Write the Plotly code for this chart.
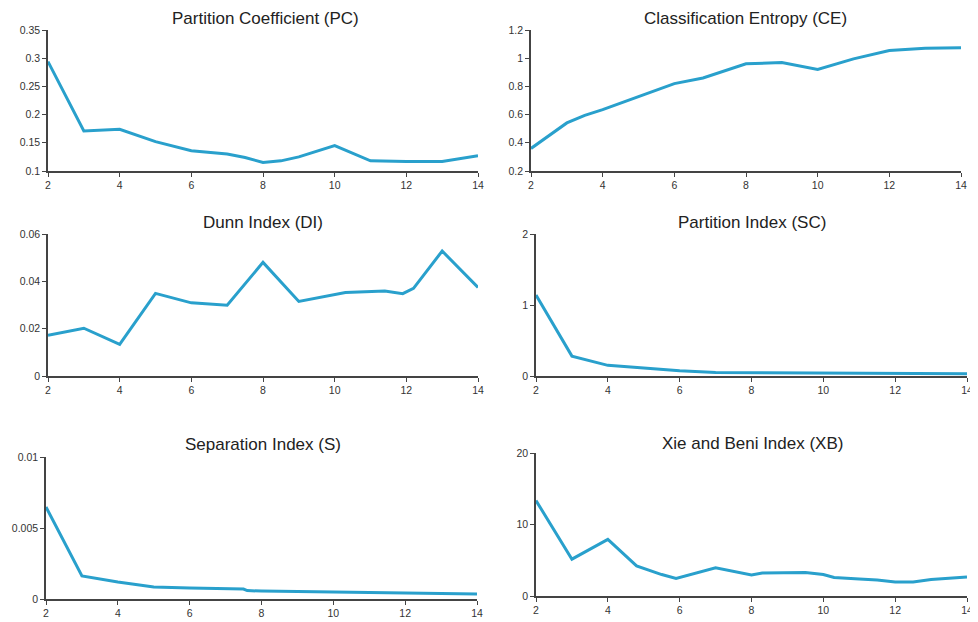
import plotly.graph_objects as go

# ---- data ----
pc_x = [2, 3, 4, 5, 6, 7, 7.5, 8, 8.5, 9, 10, 11, 12, 13, 14]
pc_y = [0.294, 0.171, 0.174, 0.152, 0.136, 0.130, 0.124, 0.115, 0.118, 0.125, 0.145, 0.118, 0.117, 0.117, 0.127]

ce_x = [2, 3, 3.5, 4, 5, 6, 6.8, 8, 9, 10, 11, 12, 13, 14]
ce_y = [0.36, 0.541, 0.595, 0.635, 0.728, 0.82, 0.86, 0.96, 0.97, 0.92, 0.995, 1.055, 1.07, 1.075]

di_x = [2, 3, 4, 5, 6, 7, 8, 9, 10.3, 11.4, 11.9, 12.2, 13, 14]
di_y = [0.0172, 0.0202, 0.0134, 0.0349, 0.0309, 0.0299, 0.048, 0.0315, 0.0353, 0.0359, 0.0348, 0.037, 0.0528, 0.0374]

sc_x = [2, 3, 4, 5, 6, 7, 8, 10, 12, 14]
sc_y = [1.14, 0.28, 0.15, 0.11, 0.075, 0.05, 0.047, 0.04, 0.035, 0.03]

s_x = [2, 3, 4, 5, 6, 7, 7.5, 7.6, 8, 10, 12, 14]
s_y = [0.00648, 0.00162, 0.0012, 0.00085, 0.00077, 0.00073, 0.0007, 0.00059, 0.00056, 0.00049, 0.00042, 0.00035]

xb_x = [2, 3, 4, 4.8, 5.5, 5.9, 7, 8, 8.3, 9, 9.5, 10, 10.3, 11, 11.5, 12, 12.5, 13, 14]
xb_y = [13.35, 5.15, 7.92, 4.2, 3.0, 2.44, 3.93, 2.95, 3.2, 3.28, 3.28, 3.0, 2.58, 2.39, 2.25, 1.97, 1.97, 2.3, 2.67]

titles = ["Partition Coefficient (PC)", "Classification Entropy (CE)", "Dunn Index (DI)",
          "Partition Index (SC)", "Separation Index (S)", "Xie and Beni Index (XB)"]

x_ticks = [2, 4, 6, 8, 10, 12, 14]
pc_ticks = [0.1, 0.15, 0.2, 0.25, 0.3, 0.35]
pc_ticktext = ["0.1", "0.15", "0.2", "0.25", "0.3", "0.35"]
ce_ticks = [0.2, 0.4, 0.6, 0.8, 1.0, 1.2]
ce_ticktext = ["0.2", "0.4", "0.6", "0.8", "1", "1.2"]
di_ticks = [0, 0.02, 0.04, 0.06]
di_ticktext = ["0", "0.02", "0.04", "0.06"]
sc_ticks = [0, 1, 2]
sc_ticktext = ["0", "1", "2"]
s_ticks = [0, 0.005, 0.01]
s_ticktext = ["0", "0.005", "0.01"]
xb_ticks = [0, 10, 20]
xb_ticktext = ["0", "10", "20"]

# ---- layout helpers ----
OFF = 8  # page body margin
W, H = 978 - OFF, 622 - OFF
LINE = "#29a0cc"
AX = "#444444"

panels = [
    (pc_x, pc_y, pc_ticks, pc_ticktext, [0.1, 0.35], (48, 478, 30, 171), (265, 18)),
    (ce_x, ce_y, ce_ticks, ce_ticktext, [0.2, 1.2], (531, 961, 30, 171), (745, 18)),
    (di_x, di_y, di_ticks, di_ticktext, [0, 0.06], (48, 478, 234, 376), (263, 223)),
    (sc_x, sc_y, sc_ticks, sc_ticktext, [0, 2], (536, 967, 234, 376), (752, 223)),
    (s_x, s_y, s_ticks, s_ticktext, [0, 0.01], (46, 477, 457, 599), (263, 444)),
    (xb_x, xb_y, xb_ticks, xb_ticktext, [0, 20], (536, 967, 453, 596), (752, 443)),
]

def px(v):
    return (v - OFF) / W

def py(v):
    return 1 - (v - OFF) / H

fig = go.Figure()
annotations = []
tf = dict(size=10.5, color="#333", family="Liberation Sans, Arial")
for i, (xs, ys, yt, ytt, yr, box, tpos) in enumerate(panels):
    n = i + 1
    xa = "x" if n == 1 else f"x{n}"
    ya = "y" if n == 1 else f"y{n}"
    fig.add_trace(go.Scatter(x=xs, y=ys, mode="lines", xaxis=xa, yaxis=ya,
                             line=dict(color=LINE, width=3), showlegend=False,
                             cliponaxis=False))
    l, r, t, b = box
    xkey = "xaxis" if n == 1 else f"xaxis{n}"
    ykey = "yaxis" if n == 1 else f"yaxis{n}"
    fig.layout[xkey] = dict(domain=[px(l), px(r)], range=[2, 14], anchor=ya,
                            tickvals=x_ticks, showgrid=False, zeroline=False,
                            showline=True, linecolor=AX, linewidth=1.5,
                            ticks="outside", ticklen=4, tickcolor=AX,
                            automargin=False, tickfont=tf)
    fig.layout[ykey] = dict(domain=[py(b), py(t)], range=yr, anchor=xa,
                            tickvals=yt, ticktext=ytt, showgrid=False, zeroline=False,
                            showline=True, linecolor=AX, linewidth=1.5,
                            ticks="outside", ticklen=4, tickcolor=AX,
                            automargin=False, tickfont=tf)
    annotations.append(dict(text=titles[i], x=px(tpos[0]), y=py(tpos[1]),
                            xref="paper", yref="paper", xanchor="center", yanchor="middle",
                            showarrow=False,
                            font=dict(size=17, color="#222", family="Liberation Sans, Arial")))

fig.update_layout(width=W, height=H, margin=dict(l=0, r=0, t=0, b=0, pad=0),
                  paper_bgcolor="white", plot_bgcolor="white",
                  annotations=annotations)

fig.write_html("out.html")
